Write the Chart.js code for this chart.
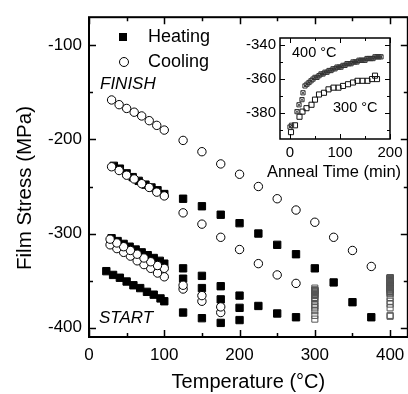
<!DOCTYPE html>
<html>
<head>
<meta charset="utf-8">
<script src="https://cdn.jsdelivr.net/npm/chart.js@4/dist/chart.umd.min.js"></script>
<style>
  html, body { margin: 0; padding: 0; background: #fff; overflow: hidden; }
  #wrap { position: relative; width: 414px; height: 394px; }
  .box { position: absolute; }
</style>
</head>
<body>
<div id="wrap">
  <div class="box" style="left:0;top:0;width:414px;height:394px"><canvas id="main"></canvas></div>
  <div class="box" style="left:240px;top:25px;width:168px;height:160px"><canvas id="inset"></canvas></div>
</div>
<script>
// main plot: heating (filled squares) and cooling (open circles), per thermal cycle
const heat1T = [23, 32, 41, 50, 59, 68, 77, 86, 95, 100, 125, 150, 175, 200];
const heat1S = [-340, -344, -347, -351, -355, -358, -362, -365, -369, -372, -384, -390, -395, -392];
const cool1T = [175, 150, 125, 100, 91, 82, 73, 64, 55, 46, 37, 28];
const cool1S = [-384, -372, -359, -346, -342, -337, -333, -329, -324, -320, -316, -312];
const heat2T = [30, 38, 46, 54, 62, 70, 78, 86, 94, 100, 125, 150, 175, 200];
const heat2S = [-305, -308, -311, -314, -317, -320, -323, -326, -329, -332, -348, -358, -370, -379];
const cool2T = [175, 150, 125, 100, 91, 82, 73, 64, 55, 46, 37, 28];
const cool2S = [-378, -366, -355, -337, -334, -330, -326, -322, -318, -314, -310, -306];
const heat3T = [125, 150, 175, 200, 225, 250, 275];
const heat3S = [-337, -345, -356, -366, -377, -385, -389];
const cool3T = [275, 250, 225, 200, 175, 150, 125, 100, 90, 80, 70, 60, 50, 40, 30];
const cool3S = [-353, -344, -332, -317, -304, -290, -278, -260, -256, -251, -247, -242, -238, -233, -229];
const heat4T = [33, 41, 50, 58, 66, 75, 83, 91, 100, 125, 150, 175, 200, 225, 250, 275, 300, 325, 350, 375];
const heat4S = [-228, -231, -236, -240, -244, -248, -251, -254, -258, -263, -271, -280, -289, -300, -312, -322, -337, -352, -373, -389];
const cool4T = [375, 350, 325, 300, 275, 250, 225, 200, 175, 150, 125, 100, 90, 80, 70, 60, 50, 40, 30];
const cool4S = [-335, -318, -304, -288, -275, -263, -250, -237, -226, -213, -201, -190, -185, -180, -175, -171, -167, -163, -158];

// anneal runs (inset), also shown as columns at their anneal temperature
const annealTemps = [300, 400];
const a300Time = [2, 10, 19, 25, 33, 43, 50, 58, 68, 77, 87, 97, 106, 116, 126, 135, 145, 155, 164, 170, 174];
const a300Stress = [-391, -387, -382, -379, -377, -375, -372, -369, -368, -366, -365, -365, -364, -363, -362, -361, -361, -361, -360, -358, -360];
const a400Time = [0, 3, 14, 18, 24, 26, 30, 34, 38, 42, 46, 50, 54, 58, 62, 66, 70, 74, 78, 82, 86, 90, 94, 98, 102, 106, 110, 114, 118, 122, 126, 130, 134, 138, 142, 146, 150, 154, 158, 162, 166, 170, 174, 178, 182];
const a400Stress = [-388, -387, -379, -375, -372, -368, -364, -363, -362, -361, -360, -359, -359, -358, -357, -357, -356, -356, -355, -355, -354, -354, -353, -353, -353, -352, -352, -351, -351, -351, -350, -350, -350, -349, -349, -349, -349, -348, -348, -348, -348, -347, -347, -347, -347];

const xTicks = [0, 100, 200, 300, 400];
const xMinor = [50, 150, 250, 350];
const yTicks = [-400, -300, -200, -100];
const yMinor = [-350, -250, -150];
const insetXTicks = [0, 100, 200];
const insetXMinor = [50, 150];
const insetYTicks = [-380, -360, -340];
const insetYMinor = [-390, -370, -350];

const FONT = "'Liberation Sans', Arial, sans-serif";
Chart.defaults.font.family = FONT;
Chart.defaults.color = '#000';

const pts = (xs, ys) => xs.map((x, i) => ({ x: x, y: ys[i] }));

// box round the plot area with inward ticks on all four sides
const framePlugin = {
  id: 'frame',
  afterDatasetsDraw(chart, args, opts) {
    const { ctx, chartArea: a } = chart;
    const x = chart.scales.x, y = chart.scales.y;
    ctx.save();
    ctx.strokeStyle = '#000';
    ctx.lineWidth = opts.lineWidth;
    ctx.strokeRect(a.left, a.top, a.right - a.left, a.bottom - a.top);
    ctx.beginPath();
    const xt = (vals, len) => vals.forEach(v => {
      const p = Math.round(x.getPixelForValue(v)) + 0.5;
      if (p < a.left - 1 || p > a.right + 1) return;
      ctx.moveTo(p, a.bottom); ctx.lineTo(p, a.bottom - len);
      ctx.moveTo(p, a.top); ctx.lineTo(p, a.top + len);
    });
    const yt = (vals, len) => vals.forEach(v => {
      const p = Math.round(y.getPixelForValue(v)) + 0.5;
      if (p < a.top - 1 || p > a.bottom + 1) return;
      ctx.moveTo(a.left, p); ctx.lineTo(a.left + len, p);
      ctx.moveTo(a.right, p); ctx.lineTo(a.right - len, p);
    });
    xt(opts.xMajor, opts.major); xt(opts.xMinor, opts.minor);
    yt(opts.yMajor, opts.major); yt(opts.yMinor, opts.minor);
    ctx.lineWidth = opts.tickWidth;
    ctx.stroke();
    ctx.restore();
  }
};

// legend, axis titles placed by hand, free text
const notesPlugin = {
  id: 'notes',
  afterDraw(chart, args, opts) {
    const ctx = chart.ctx;
    ctx.save();
    (opts.marks || []).forEach(m => {
      ctx.beginPath();
      if (m.shape === 'rect') {
        ctx.fillStyle = '#000';
        ctx.fillRect(m.x - m.s / 2, m.y - m.s / 2, m.s, m.s);
      } else {
        ctx.fillStyle = '#fff';
        ctx.strokeStyle = '#000';
        ctx.lineWidth = 1;
        ctx.arc(m.x, m.y, m.s / 2, 0, Math.PI * 2);
        ctx.fill(); ctx.stroke();
      }
    });
    ctx.fillStyle = '#000';
    ctx.textBaseline = 'middle';
    opts.texts.forEach(t => {
      ctx.save();
      ctx.font = (t.italic ? 'italic ' : '') + t.size + 'px ' + FONT;
      ctx.textAlign = t.align || 'left';
      ctx.translate(t.x, t.y);
      if (t.rot) ctx.rotate(t.rot);
      ctx.fillText(t.text, 0, 0);
      ctx.restore();
    });
    ctx.restore();
  }
};

const heating = [].concat(pts(heat1T, heat1S), pts(heat2T, heat2S), pts(heat3T, heat3S), pts(heat4T, heat4S));
const cooling = [].concat(pts(cool1T, cool1S), pts(cool2T, cool2S), pts(cool3T, cool3S), pts(cool4T, cool4S));
const annealCols = [].concat(
  a300Stress.map(v => ({ x: annealTemps[0], y: v })),
  a400Stress.map(v => ({ x: annealTemps[1], y: v }))
);

new Chart(document.getElementById('main'), {
  type: 'scatter',
  data: {
    datasets: [
      { label: 'Heating', data: heating, pointStyle: 'rect', pointRadius: 5.2, backgroundColor: '#000', borderColor: '#000', borderWidth: 1, order: 2 },
      { label: 'Cooling', data: cooling, pointStyle: 'circle', pointRadius: 4.2, backgroundColor: '#fff', borderColor: '#000', borderWidth: 1, order: 1 },
      { label: 'Anneal', data: annealCols, pointStyle: 'rect', pointRadius: 4.3, backgroundColor: 'rgba(0,0,0,0)', borderColor: '#555', borderWidth: 1, order: 3 }
    ]
  },
  options: {
    responsive: true,
    maintainAspectRatio: false,
    animation: false,
    events: [],
    layout: { padding: { top: 15, right: 3, left: 0, bottom: 0 } },
    plugins: {
      legend: { display: false },
      tooltip: { enabled: false },
      frame: { lineWidth: 2, tickWidth: 1.5, major: 7, minor: 4, xMajor: xTicks, xMinor: xMinor, yMajor: yTicks, yMinor: yMinor },
      notes: {
        marks: [
          { shape: 'rect', x: 123, y: 37, s: 8 },
          { shape: 'circle', x: 124, y: 62, s: 9 }
        ],
        texts: [
          { text: 'Heating', x: 148, y: 37, size: 18 },
          { text: 'Cooling', x: 148, y: 62, size: 18 },
          { text: 'FINISH', x: 100, y: 84, size: 17, italic: true },
          { text: 'START', x: 99, y: 318, size: 17, italic: true },
          { text: 'Film Stress (MPa)', x: 25, y: 188, size: 20.5, align: 'center', rot: -Math.PI / 2 }
        ]
      }
    },
    scales: {
      x: {
        type: 'linear', min: 0, max: 423.5,
        afterBuildTicks: s => { s.ticks = xTicks.map(v => ({ value: v })); },
        afterFit: s => { s.height = 57; },
        grid: { display: false, drawTicks: false },
        border: { display: false },
        ticks: { font: { size: 17 }, padding: 8, maxRotation: 0 },
        title: { display: true, text: 'Temperature (°C)', font: { size: 20 }, padding: { top: 0, bottom: 0 } }
      },
      y: {
        type: 'linear', min: -410, max: -70,
        afterBuildTicks: s => { s.ticks = yTicks.map(v => ({ value: v })); },
        afterFit: s => { s.width = 89; },
        grid: { display: false, drawTicks: false },
        border: { display: false },
        ticks: { font: { size: 17 }, padding: 7 }
      }
    }
  },
  plugins: [framePlugin, notesPlugin]
});

new Chart(document.getElementById('inset'), {
  type: 'scatter',
  data: {
    datasets: [
      { label: '400 °C', data: pts(a400Time, a400Stress), pointStyle: 'rect', pointRadius: 3, backgroundColor: 'rgba(0,0,0,0)', borderColor: '#333', borderWidth: 1 },
      { label: '400 °C x', data: pts(a400Time, a400Stress), pointStyle: 'crossRot', pointRadius: 2, borderColor: '#333', borderWidth: 1 },
      { label: '300 °C', data: pts(a300Time, a300Stress), pointStyle: 'rect', pointRadius: 3.6, backgroundColor: 'rgba(0,0,0,0)', borderColor: '#111', borderWidth: 1 }
    ]
  },
  options: {
    responsive: true,
    maintainAspectRatio: false,
    animation: false,
    events: [],
    layout: { padding: { top: 7, right: 18, left: 0, bottom: 0 } },
    plugins: {
      legend: { display: false },
      tooltip: { enabled: false },
      frame: { lineWidth: 1.5, tickWidth: 1, major: 5, minor: 3, xMajor: insetXTicks, xMinor: insetXMinor, yMajor: insetYTicks, yMinor: insetYMinor },
      notes: {
        texts: [
          { text: '400 °C', x: 52, y: 28, size: 14.5 },
          { text: '300 °C', x: 93, y: 83, size: 14.5 },
          { text: 'Anneal Time (min)', x: 94, y: 147, size: 16.5, align: 'center' }
        ]
      }
    },
    scales: {
      x: {
        type: 'linear', min: -20, max: 200,
        afterBuildTicks: s => { s.ticks = insetXTicks.map(v => ({ value: v })); },
        afterFit: s => { s.height = 46; },
        grid: { display: false, drawTicks: false },
        border: { display: false },
        ticks: { font: { size: 15 }, padding: 5, maxRotation: 0 }
      },
      y: {
        type: 'linear', min: -395, max: -336,
        afterBuildTicks: s => { s.ticks = insetYTicks.map(v => ({ value: v })); },
        afterFit: s => { s.width = 40; },
        grid: { display: false, drawTicks: false },
        border: { display: false },
        ticks: { font: { size: 15 }, padding: 4 }
      }
    }
  },
  plugins: [framePlugin, notesPlugin]
});
</script>
</body>
</html>
